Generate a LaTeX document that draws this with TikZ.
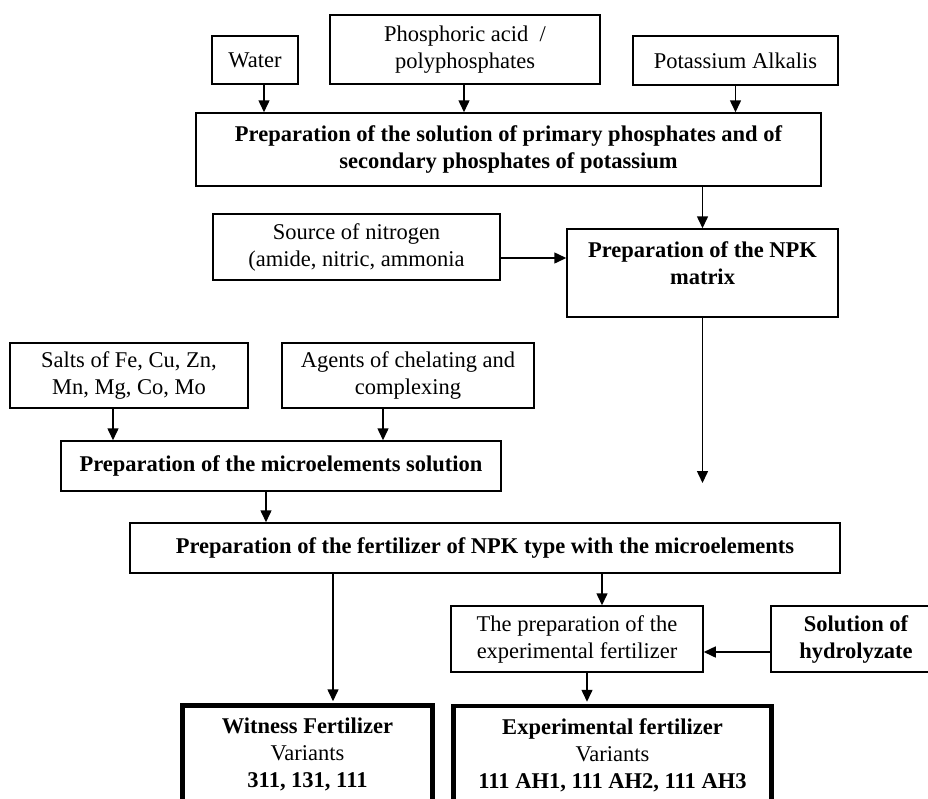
\documentclass[tikz,border=0pt]{standalone}
\usepackage{fontspec}
\setmainfont{Liberation Serif}
\usetikzlibrary{arrows.meta}
\newcommand\myfs{\fontsize{22.5}{27}\selectfont}
\begin{document}
\begin{tikzpicture}[x=1pt,y=-1pt,
  box/.style={draw, line width=1.5pt, inner sep=0pt, align=center, font=\myfs},
  bbox/.style={box, font=\myfs\bfseries},
  heavybox/.style={draw, line width=4.5pt, inner sep=0pt, align=center, font=\myfs},
  txt/.style={inner sep=0pt, align=center, font=\myfs},
  arr/.style={-{Triangle[length=12pt,width=11pt]}, line width=1.5pt}]
\useasboundingbox (0,0) rectangle (928,798);

% top inputs
\node[box, minimum width=86pt, minimum height=48pt] (water) at (255,60) {Water};
\node[box, minimum width=270pt, minimum height=69pt] (phos) at (465,49.5) {Phosphoric acid\ \ /\\polyphosphates};
\node[box, minimum width=205pt, minimum height=49pt] (pot) at (735.5,60.5) {Potassium Alkalis};

\node[bbox, minimum width=625pt, minimum height=73pt] (sol) at (508.5,149.5)
  {Preparation of the solution of primary phosphates and of\\secondary phosphates of potassium};

\node[box, minimum width=287pt, minimum height=66pt] (nit) at (356.5,247)
  {Source of nitrogen\\(amide, nitric, ammonia};
\node[box, minimum width=271pt, minimum height=88pt] (npk) at (702.5,273) {};
\node[txt, font=\myfs\bfseries] (npkt) at (702.5,263.5) {Preparation of the NPK\\matrix};
\coordinate (npkend) at (702.5,483);

\node[box, minimum width=238pt, minimum height=65pt] (salts) at (129,375.5)
  {Salts of Fe, Cu, Zn,\\Mn, Mg, Co, Mo};
\node[box, minimum width=252pt, minimum height=65pt] (agents) at (408,375.5)
  {Agents of chelating and\\complexing};
\node[bbox, minimum width=440pt, minimum height=50pt] (micro) at (281,466)
  {Preparation of the microelements solution};

\node[bbox, minimum width=710pt, minimum height=50pt] (fert) at (485,548)
  {Preparation of the fertilizer of NPK type with the microelements};

\node[box, minimum width=252pt, minimum height=66pt] (exp) at (577,639)
  {The preparation of the\\experimental fertilizer};
\node[bbox, minimum width=170pt, minimum height=66pt] (hyd) at (856,639)
  {Solution of\\hydrolyzate};

\node[heavybox, minimum width=250pt, minimum height=98pt] (wit) at (307.5,754.5)
  {\textbf{Witness Fertilizer}\\Variants\\\textbf{311, 131, 111}};
\node[heavybox, minimum width=318pt, minimum height=98pt] (expf) at (612.5,755)
  {\textbf{Experimental fertilizer}\\Variants\\\textbf{111 AH1, 111 AH2, 111 AH3}};

% connectors
\draw[arr] ([xshift=9pt]water.south) -- ([xshift=9pt]water.south |- sol.north);
\draw[arr] ([xshift=-1pt]phos.south) -- ([xshift=-1pt]phos.south |- sol.north);
\draw[arr] (pot.south) -- (pot.south |- sol.north);
\draw[arr] (sol.south -| npk.north) -- (npk.north);
\draw[arr] ([yshift=-11pt]nit.east) -- ([yshift=-11pt]nit.east -| npk.west);
\draw[arr] (npk.south) -- (npkend);
\draw[arr] ([xshift=-16pt]salts.south) -- ([xshift=-16pt]salts.south |- micro.north);
\draw[arr] ([xshift=-25pt]agents.south) -- ([xshift=-25pt]agents.south |- micro.north);
\draw[arr] ([xshift=-15pt]micro.south) -- ([xshift=-15pt]micro.south |- fert.north);
\draw[arr] ([xshift=25.5pt]wit.north |- fert.south) -- ([xshift=25.5pt,yshift=2pt]wit.north);
\draw[arr] ([xshift=25pt]exp.north |- fert.south) -- ([xshift=25pt]exp.north);
\draw[arr] ([yshift=-13pt]hyd.west) -- ([yshift=-13pt]exp.east);
\draw[arr] ([xshift=10pt]exp.south) -- ([xshift=-25.5pt,yshift=2pt]expf.north);
\end{tikzpicture}
\end{document}
